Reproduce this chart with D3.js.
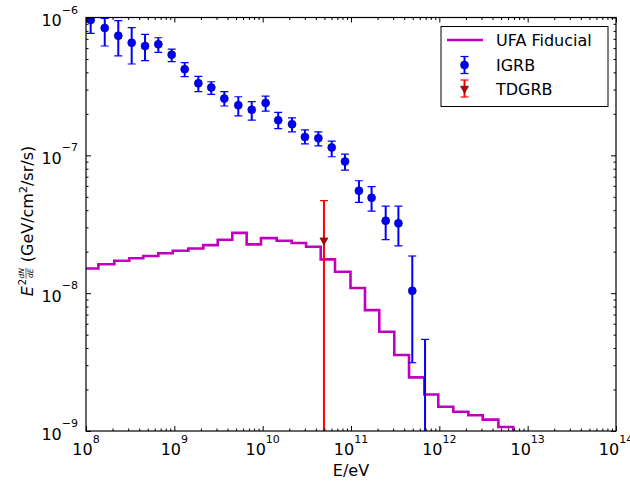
<!DOCTYPE html>
<html>
<head>
<meta charset="utf-8">
<script src="https://cdn.jsdelivr.net/npm/d3@7"></script>
<style>
  body { margin: 0; background: #fff; }
  svg { display: block; font-family: "DejaVu Sans", sans-serif; }
</style>
</head>
<body>
<div id="svg-container"></div>
<script>
// ---------------- data ----------------
// IGRB points: energy (eV), value, lower / upper error bar ends
const igrbE = [1.13e8, 1.63e8, 2.32e8, 3.29e8, 4.66e8, 6.59e8, 9.33e8, 1.31e9, 1.87e9, 2.62e9,
  3.68e9, 5.3e9, 7.52e9, 1.08e10, 1.50e10, 2.15e10, 3.01e10, 4.27e10, 6.05e10, 8.55e10,
  1.23e11, 1.71e11, 2.47e11, 3.44e11, 4.94e11, 6.89e11];
const igrbVal = [9.6e-7, 8.39e-7, 7.38e-7, 6.56e-7, 6.21e-7, 6.39e-7, 5.37e-7, 4.21e-7, 3.33e-7, 3.11e-7,
  2.58e-7, 2.31e-7, 2.14e-7, 2.40e-7, 1.80e-7, 1.68e-7, 1.36e-7, 1.33e-7, 1.14e-7, 9.03e-8,
  5.53e-8, 4.92e-8, 3.35e-8, 3.21e-8, 1.04e-8, 7e-10];
const igrbLo = [7.68e-7, 6.21e-7, 5.26e-7, 4.60e-7, 4.86e-7, 5.58e-7, 4.78e-7, 3.72e-7, 2.90e-7, 2.77e-7,
  2.28e-7, 1.93e-7, 1.80e-7, 2.09e-7, 1.56e-7, 1.48e-7, 1.21e-7, 1.17e-7, 9.77e-8, 7.82e-8,
  4.56e-8, 3.94e-8, 2.45e-8, 2.20e-8, 3.13e-9, 1e-11];
const igrbHi = [1.2e-6, 9.87e-7, 9.48e-7, 8.43e-7, 7.55e-7, 7.13e-7, 5.90e-7, 4.70e-7, 3.74e-7, 3.42e-7,
  2.90e-7, 2.66e-7, 2.45e-7, 2.69e-7, 2.05e-7, 1.87e-7, 1.53e-7, 1.48e-7, 1.27e-7, 1.02e-7,
  6.54e-8, 5.92e-8, 4.28e-8, 4.28e-8, 1.86e-8, 4.62e-9];

// TDGRB single point
const tdE = [4.94e10];
const tdVal = [2.42e-8];
const tdLo = [1e-11];
const tdHi = [4.69e-8];

// UFA Fiducial histogram: bin edges (eV) and bin values
const ufaEdges = [9.3e7, 1.38e8, 2.09e8, 3.09e8, 4.45e8, 6.59e8, 9.60e8, 1.44e9, 2.13e9, 3.10e9,
  4.53e9, 6.59e9, 9.57e9, 1.44e10, 2.13e10, 3.10e10, 4.54e10, 6.59e10, 9.87e10, 1.44e11,
  2.09e11, 3.09e11, 4.54e11, 6.76e11, 9.73e11, 1.44e12, 2.13e12, 3.10e12, 4.66e12, 6.87e12, 1.0e13];
const ufaVal = [1.51e-8, 1.62e-8, 1.72e-8, 1.79e-8, 1.86e-8, 1.95e-8, 2.03e-8, 2.11e-8, 2.23e-8, 2.44e-8,
  2.74e-8, 2.26e-8, 2.51e-8, 2.40e-8, 2.31e-8, 2.17e-8, 1.76e-8, 1.43e-8, 1.09e-8, 7.53e-9,
  5.25e-9, 3.56e-9, 2.45e-9, 1.84e-9, 1.50e-9, 1.38e-9, 1.30e-9, 1.21e-9, 1.07e-9, 1e-10];

const legendLabels = ["UFA Fiducial", "IGRB", "TDGRB"];
const xLabel = "E/eV";

// ---------------- init ----------------
const width = 630, height = 484;
const margin = { top: 17.5, right: 14, bottom: 53, left: 86 };
const fs = 16; // main font size
const svg = d3.select("#svg-container").append("svg")
  .attr("width", width).attr("height", height);

const xScale = d3.scaleLog().domain([1e8, 1e14]).range([margin.left, width - margin.right]);
const yScale = d3.scaleLog().domain([1e-9, 1e-6]).range([height - margin.bottom, margin.top]);
const x0 = xScale.range()[0], x1 = xScale.range()[1];
const y0 = yScale.range()[0], y1 = yScale.range()[1];

svg.append("defs").append("clipPath").attr("id", "clip")
  .append("rect").attr("x", x0).attr("y", y1).attr("width", x1 - x0).attr("height", y0 - y1);

const plot = svg.append("g").attr("clip-path", "url(#clip)");

// ---------------- UFA step line ----------------
const stepPts = ufaVal.map((v, i) => [ufaEdges[i], v]);
stepPts.push([ufaEdges[ufaEdges.length - 1], ufaVal[ufaVal.length - 1]]);
const stepLine = d3.line()
  .x((d) => xScale(d[0]))
  .y((d) => yScale(d[1]))
  .curve(d3.curveStepAfter);
plot.append("path")
  .datum(stepPts)
  .attr("fill", "none")
  .attr("stroke", "#bf00bf")
  .attr("stroke-width", 2.6)
  .attr("d", stepLine);

// ---------------- error bars helper ----------------
const addErrorBars = (E, val, lo, hi, color) => {
  const g = plot.append("g");
  E.forEach((e, i) => {
    const cx = xScale(e);
    g.append("line")
      .attr("x1", cx).attr("x2", cx)
      .attr("y1", yScale(lo[i])).attr("y2", yScale(hi[i]))
      .attr("stroke", color).attr("stroke-width", 2);
    [lo[i], hi[i]].forEach((b) => {
      g.append("line")
        .attr("x1", cx - 4).attr("x2", cx + 4)
        .attr("y1", yScale(b)).attr("y2", yScale(b))
        .attr("stroke", color).attr("stroke-width", 1.2);
    });
  });
  return g;
};

// IGRB
const igrb = addErrorBars(igrbE, igrbVal, igrbLo, igrbHi, "#0000ff");
igrb.selectAll(".dot")
  .data(igrbE)
  .enter()
  .append("circle")
  .attr("class", "dot")
  .attr("cx", (d) => xScale(d))
  .attr("cy", (d, i) => yScale(igrbVal[i]))
  .attr("r", 4)
  .attr("fill", "#0000ff")
  .attr("stroke", "#00006a")
  .attr("stroke-width", 0.6);

// TDGRB
const tri = d3.symbol().type(d3.symbolTriangle).size(28);
const td = addErrorBars(tdE, tdVal, tdLo, tdHi, "#ff0000");
td.selectAll(".tri")
  .data(tdE)
  .enter()
  .append("path")
  .attr("class", "tri")
  .attr("d", tri)
  .attr("transform", (d, i) => `translate(${xScale(d)},${yScale(tdVal[i])}) rotate(180)`)
  .attr("fill", "#c00000")
  .attr("stroke", "#400000")
  .attr("stroke-width", 0.6);

// ---------------- axes (ticks inside, all four sides) ----------------
const xTicks = xScale.ticks();
const xMajor = xTicks.filter((d) => Math.abs(Math.log10(d) - Math.round(Math.log10(d))) < 1e-9);
const xMinor = xTicks.filter((d) => !xMajor.includes(d));
const yTicks = yScale.ticks();
const yMajor = yTicks.filter((d) => Math.abs(Math.log10(d) - Math.round(Math.log10(d))) < 1e-9);
const yMinor = yTicks.filter((d) => !yMajor.includes(d));

const tickAxis = (axisFn, scale, vals, size, translate) => {
  svg.append("g")
    .attr("transform", translate)
    .call(axisFn(scale).tickValues(vals).tickSizeInner(size).tickSizeOuter(0).tickFormat(""))
    .call((g) => g.select(".domain").remove())
    .call((g) => g.selectAll("line").attr("stroke", "#000").attr("stroke-width", 1));
};
tickAxis(d3.axisBottom, xScale, xMajor, -5, `translate(0,${y0})`);
tickAxis(d3.axisBottom, xScale, xMinor, -2.5, `translate(0,${y0})`);
tickAxis(d3.axisTop, xScale, xMajor, -5, `translate(0,${y1})`);
tickAxis(d3.axisTop, xScale, xMinor, -2.5, `translate(0,${y1})`);
tickAxis(d3.axisLeft, yScale, yMajor, -5, `translate(${x0},0)`);
tickAxis(d3.axisLeft, yScale, yMinor, -2.5, `translate(${x0},0)`);
tickAxis(d3.axisRight, yScale, yMajor, -5, `translate(${x1},0)`);
tickAxis(d3.axisRight, yScale, yMinor, -2.5, `translate(${x1},0)`);

// frame
svg.append("rect")
  .attr("x", x0).attr("y", y1)
  .attr("width", x1 - x0).attr("height", y0 - y1)
  .attr("fill", "none").attr("stroke", "#000").attr("stroke-width", 1.2);

// tick labels 10^n
const expText = (n) => (n < 0 ? "\u2212" + Math.abs(n) : String(n));
xMajor.forEach((d) => {
  const t = svg.append("text")
    .attr("x", xScale(d)).attr("y", y0 + 24)
    .attr("text-anchor", "middle")
    .attr("font-size", fs).attr("fill", "#000");
  t.append("tspan").text("10");
  t.append("tspan").attr("dy", -12).attr("font-size", 11).text(expText(Math.round(Math.log10(d))));
});
yMajor.forEach((d) => {
  const t = svg.append("text")
    .attr("x", x0 - 8).attr("y", yScale(d) + 8.5)
    .attr("text-anchor", "end")
    .attr("font-size", fs).attr("fill", "#000");
  t.append("tspan").text("10");
  t.append("tspan").attr("dy", -12.5).attr("font-size", 11).text(expText(Math.round(Math.log10(d))));
});

// x label
svg.append("text")
  .attr("x", (x0 + x1) / 2).attr("y", 476)
  .attr("text-anchor", "middle")
  .attr("font-size", fs)
  .text(xLabel);

// y label: E^{2 dN/dE} (GeV/cm^2/sr/s)
const yl = svg.append("g").attr("transform", `translate(33,${(y0 + y1) / 2 + 2}) rotate(-90)`);
yl.append("text").attr("x", -70).attr("y", 0)
  .attr("font-size", fs).attr("font-style", "italic").text("E");
yl.append("text").attr("x", -59).attr("y", -7.5)
  .attr("font-size", 10).text("2");
yl.append("text").attr("x", -47).attr("y", -9).attr("text-anchor", "middle")
  .attr("font-size", 7.5).attr("font-style", "italic").text("dN");
yl.append("line").attr("x1", -52.5).attr("x2", -41.5).attr("y1", -7).attr("y2", -7)
  .attr("stroke", "#000").attr("stroke-width", 0.6);
yl.append("text").attr("x", -47).attr("y", -0.5).attr("text-anchor", "middle")
  .attr("font-size", 7.5).attr("font-style", "italic").text("dE");
const unit = yl.append("text").attr("x", -36).attr("y", 0).attr("font-size", fs);
unit.append("tspan").text("(GeV/cm");
unit.append("tspan").attr("dy", -6.5).attr("font-size", 11).text("2");
unit.append("tspan").attr("dy", 6.5).text("/sr/s)");

// ---------------- legend ----------------
const lg = svg.append("g");
lg.append("rect")
  .attr("x", 441).attr("y", 26.5).attr("width", 167).attr("height", 80)
  .attr("fill", "#fff").attr("stroke", "#000").attr("stroke-width", 1);
const rowY = [40, 65, 88.5];
lg.append("line").attr("x1", 447).attr("x2", 483).attr("y1", rowY[0]).attr("y2", rowY[0])
  .attr("stroke", "#bf00bf").attr("stroke-width", 2.6);
// IGRB sample
lg.append("line").attr("x1", 464.5).attr("x2", 464.5).attr("y1", rowY[1] - 8.5).attr("y2", rowY[1] + 8.5)
  .attr("stroke", "#0000ff").attr("stroke-width", 2);
[-8.5, 8.5].forEach((o) => lg.append("line")
  .attr("x1", 460.5).attr("x2", 468.5).attr("y1", rowY[1] + o).attr("y2", rowY[1] + o)
  .attr("stroke", "#0000ff").attr("stroke-width", 1.2));
lg.append("circle").attr("cx", 464.5).attr("cy", rowY[1]).attr("r", 4)
  .attr("fill", "#0000ff").attr("stroke", "#00006a").attr("stroke-width", 0.6);
// TDGRB sample
lg.append("line").attr("x1", 464.5).attr("x2", 464.5).attr("y1", rowY[2] - 8.5).attr("y2", rowY[2] + 8.5)
  .attr("stroke", "#ff0000").attr("stroke-width", 2);
[-8.5, 8.5].forEach((o) => lg.append("line")
  .attr("x1", 460.5).attr("x2", 468.5).attr("y1", rowY[2] + o).attr("y2", rowY[2] + o)
  .attr("stroke", "#ff0000").attr("stroke-width", 1.2));
lg.append("path").attr("d", tri)
  .attr("transform", `translate(464.5,${rowY[2]}) rotate(180)`)
  .attr("fill", "#c00000").attr("stroke", "#400000").attr("stroke-width", 0.6);

legendLabels.forEach((s, i) => {
  lg.append("text")
    .attr("x", 496).attr("y", rowY[i] + 6)
    .attr("font-size", fs)
    .text(s);
});
</script>
</body>
</html>
